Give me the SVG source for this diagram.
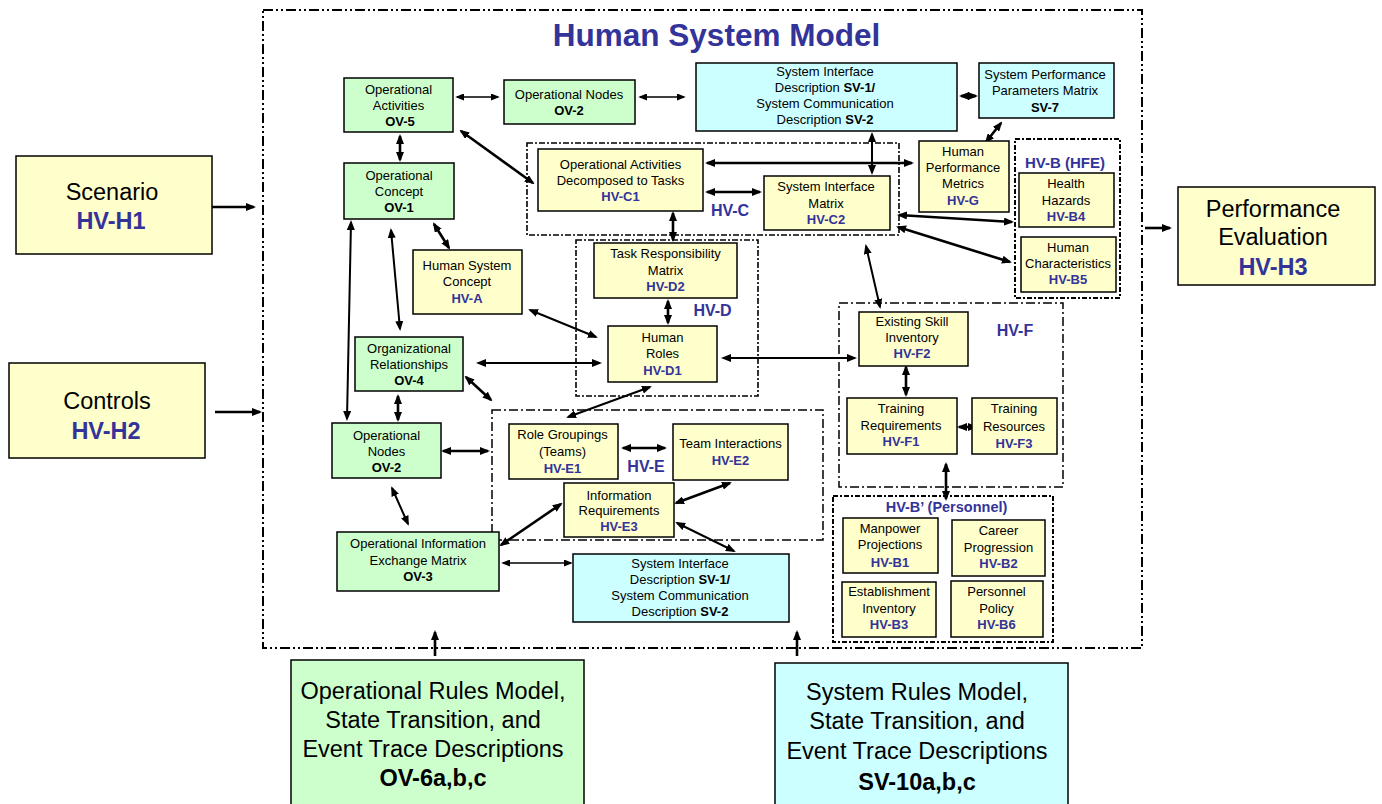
<svg xmlns="http://www.w3.org/2000/svg" width="1382" height="804" viewBox="0 0 1382 804">
  <style>
    .box { stroke: #000; stroke-width: 1.5; }
    .g { fill: #CCFFCC; }
    .y { fill: #FFFFCC; }
    .c { fill: #CCFFFF; }
    text { font-family: "Liberation Sans", Arial, sans-serif; text-anchor: middle; fill: #000; }
    .t { font-size: 13px; }
    .big { font-size: 23.5px; }
    .b { font-weight: bold; }
    .hv { font-weight: bold; fill: #333399; }
    .lbl { font-size: 16px; font-weight: bold; fill: #333399; }
    .frame { fill: none; stroke: #000; }
    .outer { stroke-width: 2; stroke-dasharray: 10 3 2 3 2 3; }
    .grp { stroke-width: 1.6; stroke-dasharray: 6 2 2 2; }
    .grp2 { stroke-width: 1.5; stroke-dasharray: 9 3 2 3; }
    .grp3 { stroke-width: 2; stroke-dasharray: 5 2 2 2; }
    #connectors line { stroke: #000; fill: none; }
    .k { stroke-width: 2.6; marker-start: url(#ah); marker-end: url(#ah); }
    .m { stroke-width: 2; marker-start: url(#ah); marker-end: url(#ah); }
    .n { stroke-width: 1.3; marker-start: url(#as); marker-end: url(#as); }
    .one { stroke-width: 2.6; marker-end: url(#ah); }
  </style>
  <defs>
    <marker id="ah" viewBox="0 0 10 8" refX="8" refY="4" markerWidth="10" markerHeight="8" markerUnits="userSpaceOnUse" orient="auto-start-reverse">
      <path d="M0,0 L10,4 L0,8 z" fill="#000"/>
    </marker>
    <marker id="as" viewBox="0 0 10 8" refX="8" refY="4" markerWidth="9" markerHeight="7" markerUnits="userSpaceOnUse" orient="auto-start-reverse">
      <path d="M0,0 L10,4 L0,8 z" fill="#000"/>
    </marker>
  </defs>

  <rect width="1382" height="804" fill="#fff"/>

  <!-- model boundary and view groupings -->
  <g id="frames">
    <rect class="frame outer" x="263" y="10" width="879" height="638"/>
    <rect class="frame grp" x="527" y="143" width="372" height="92"/>
    <rect class="frame grp" x="576" y="240" width="182" height="156"/>
    <rect class="frame grp2" x="492" y="410" width="331" height="130"/>
    <rect class="frame grp2" x="839" y="303" width="224" height="184"/>
    <rect class="frame grp3" x="1015" y="139" width="105" height="159"/>
    <rect class="frame grp3" x="833" y="496" width="220" height="146"/>
  </g>

  <g id="labels">
    <text x="716.5" y="46" class="b" style="font-size:31.5px;fill:#333399">Human System Model</text>
    <text x="730" y="215.5" class="lbl">HV-C</text>
    <text x="712.5" y="315.5" class="lbl">HV-D</text>
    <text x="646" y="472" class="lbl">HV-E</text>
    <text x="1015" y="335.5" class="lbl">HV-F</text>
    <text x="1065" y="167.5" class="lbl" style="font-size:15px">HV-B (HFE)</text>
    <text x="946.5" y="512" class="lbl" style="font-size:14.5px">HV-B’ (Personnel)</text>
  </g>

  <!-- connectors -->
  <g id="connectors">
    <line class="n" x1="457" y1="97" x2="498" y2="97"/>
    <line class="n" x1="640" y1="97" x2="684" y2="97"/>
    <line class="k" x1="961" y1="96" x2="976" y2="96"/>
    <line class="k" x1="400" y1="136" x2="400" y2="160"/>
    <line class="k" x1="461" y1="131" x2="533" y2="183"/>
    <line class="k" x1="707" y1="163" x2="912" y2="163"/>
    <line class="k" x1="707" y1="192" x2="760" y2="192"/>
    <line class="m" x1="872" y1="134" x2="872" y2="173"/>
    <line class="k" x1="986" y1="142" x2="1001" y2="123"/>
    <line class="k" x1="899" y1="215" x2="1012" y2="222"/>
    <line class="k" x1="898" y1="227" x2="1010" y2="262"/>
    <line class="m" x1="866" y1="246" x2="880" y2="307"/>
    <line class="k" x1="673" y1="213" x2="673" y2="240"/>
    <line class="k" x1="668" y1="301" x2="668" y2="323"/>
    <line class="m" x1="723" y1="358" x2="855" y2="358"/>
    <line class="m" x1="530" y1="310" x2="596" y2="337"/>
    <line class="m" x1="478" y1="363" x2="600" y2="363"/>
    <line class="m" x1="650" y1="387" x2="568" y2="417"/>
    <line class="k" x1="434" y1="224" x2="449" y2="248"/>
    <line class="m" x1="391" y1="230" x2="400" y2="329"/>
    <line class="m" x1="351" y1="222" x2="347" y2="419"/>
    <line class="k" x1="398" y1="396" x2="398" y2="420"/>
    <line class="k" x1="466" y1="377" x2="491" y2="400"/>
    <line class="k" x1="443" y1="451" x2="488" y2="451"/>
    <line class="k" x1="623" y1="448" x2="665" y2="448"/>
    <line class="k" x1="676" y1="503" x2="730" y2="483"/>
    <line class="m" x1="677" y1="523" x2="734" y2="551"/>
    <line class="k" x1="501" y1="545" x2="561" y2="504"/>
    <line class="m" x1="392" y1="488" x2="408" y2="524"/>
    <line class="n" x1="503" y1="563" x2="571" y2="563"/>
    <line class="k" x1="906" y1="367" x2="906" y2="395"/>
    <line class="k" x1="959" y1="427" x2="976" y2="427"/>
    <line class="k" x1="946" y1="464" x2="946" y2="499"/>
    <line class="one" x1="210" y1="207" x2="254" y2="207"/>
    <line class="one" x1="215" y1="412" x2="260" y2="412"/>
    <line class="one" x1="1145" y1="228" x2="1170" y2="228"/>
    <line class="one" x1="435" y1="656" x2="435" y2="632"/>
    <line class="one" x1="797" y1="656" x2="797" y2="632"/>
  </g>

  <!-- operational views -->
  <g id="ov5">
    <rect class="box g" x="344" y="78" width="109" height="54"/>
    <text class="t" x="398.5" y="93.5">Operational</text>
    <text class="t" x="398.5" y="109.5">Activities</text>
    <text class="t b" x="400" y="125.5">OV-5</text>
  </g>
  <g id="ov2-top">
    <rect class="box g" x="504" y="80" width="131" height="44"/>
    <text class="t" x="569" y="98.5">Operational Nodes</text>
    <text class="t b" x="569" y="115">OV-2</text>
  </g>
  <g id="ov1">
    <rect class="box g" x="344" y="163" width="110" height="56"/>
    <text class="t" x="399" y="179.5">Operational</text>
    <text class="t" x="399" y="196">Concept</text>
    <text class="t b" x="399" y="212">OV-1</text>
  </g>
  <g id="ov4">
    <rect class="box g" x="355" y="337" width="108" height="54"/>
    <text class="t" x="409" y="353">Organizational</text>
    <text class="t" x="409" y="369">Relationships</text>
    <text class="t b" x="409" y="385">OV-4</text>
  </g>
  <g id="ov2-bottom">
    <rect class="box g" x="332" y="423" width="109" height="55"/>
    <text class="t" x="386.5" y="439.5">Operational</text>
    <text class="t" x="386.5" y="455.5">Nodes</text>
    <text class="t b" x="386.5" y="472">OV-2</text>
  </g>
  <g id="ov3">
    <rect class="box g" x="337" y="532" width="162" height="59"/>
    <text class="t" x="418" y="548">Operational Information</text>
    <text class="t" x="418" y="565">Exchange Matrix</text>
    <text class="t b" x="418" y="580.5">OV-3</text>
  </g>

  <!-- system views -->
  <g id="sv1-top">
    <rect class="box c" x="696" y="63" width="261" height="68"/>
    <text class="t" x="825" y="76">System Interface</text>
    <text class="t" x="825" y="92">Description <tspan class="b">SV-1/</tspan></text>
    <text class="t" x="825" y="108">System Communication</text>
    <text class="t" x="825" y="124">Description <tspan class="b">SV-2</tspan></text>
  </g>
  <g id="sv7">
    <rect class="box c" x="979" y="63" width="135" height="55"/>
    <text class="t" x="1045" y="78.5">System Performance</text>
    <text class="t" x="1045" y="95">Parameters Matrix</text>
    <text class="t b" x="1045" y="111.5">SV-7</text>
  </g>
  <g id="sv1-bottom">
    <rect class="box c" x="573" y="554" width="216" height="68"/>
    <text class="t" x="680" y="568">System Interface</text>
    <text class="t" x="680" y="584">Description <tspan class="b">SV-1/</tspan></text>
    <text class="t" x="680" y="599.5">System Communication</text>
    <text class="t" x="680" y="615.5">Description <tspan class="b">SV-2</tspan></text>
  </g>

  <!-- human views -->
  <g id="hv-c1">
    <rect class="box y" x="538" y="149" width="165" height="62"/>
    <text class="t" x="620.5" y="168.5">Operational Activities</text>
    <text class="t" x="620.5" y="184.5">Decomposed to Tasks</text>
    <text class="t hv" x="620.5" y="200.5">HV-C1</text>
  </g>
  <g id="hv-c2">
    <rect class="box y" x="764" y="176" width="126" height="54"/>
    <text class="t" x="826" y="191">System Interface</text>
    <text class="t" x="826" y="207.5">Matrix</text>
    <text class="t hv" x="826" y="223.5">HV-C2</text>
  </g>
  <g id="hv-g">
    <rect class="box y" x="919" y="141" width="90" height="71"/>
    <text class="t" x="963" y="156">Human</text>
    <text class="t" x="963" y="172">Performance</text>
    <text class="t" x="963" y="188">Metrics</text>
    <text class="t hv" x="963" y="204.5">HV-G</text>
  </g>
  <g id="hv-b4">
    <rect class="box y" x="1019" y="173" width="95" height="54"/>
    <text class="t" x="1066" y="188">Health</text>
    <text class="t" x="1066" y="204.5">Hazards</text>
    <text class="t hv" x="1066" y="221">HV-B4</text>
  </g>
  <g id="hv-b5">
    <rect class="box y" x="1021" y="237" width="95" height="55"/>
    <text class="t" x="1068" y="252">Human</text>
    <text class="t" x="1068" y="268">Characteristics</text>
    <text class="t hv" x="1068" y="284">HV-B5</text>
  </g>
  <g id="hv-a">
    <rect class="box y" x="413" y="250" width="109" height="64"/>
    <text class="t" x="467" y="269.5">Human System</text>
    <text class="t" x="467" y="286">Concept</text>
    <text class="t hv" x="467" y="302.5">HV-A</text>
  </g>
  <g id="hv-d2">
    <rect class="box y" x="594" y="243" width="143" height="55"/>
    <text class="t" x="665.5" y="258">Task Responsibility</text>
    <text class="t" x="665.5" y="275">Matrix</text>
    <text class="t hv" x="665.5" y="291">HV-D2</text>
  </g>
  <g id="hv-d1">
    <rect class="box y" x="608" y="326" width="109" height="56"/>
    <text class="t" x="662.5" y="342">Human</text>
    <text class="t" x="662.5" y="358">Roles</text>
    <text class="t hv" x="662.5" y="375">HV-D1</text>
  </g>
  <g id="hv-e1">
    <rect class="box y" x="509" y="424" width="109" height="55"/>
    <text class="t" x="562.5" y="439">Role Groupings</text>
    <text class="t" x="562.5" y="456">(Teams)</text>
    <text class="t hv" x="562.5" y="473">HV-E1</text>
  </g>
  <g id="hv-e2">
    <rect class="box y" x="673" y="424" width="115" height="56"/>
    <text class="t" x="730.5" y="448">Team Interactions</text>
    <text class="t hv" x="730.5" y="465">HV-E2</text>
  </g>
  <g id="hv-e3">
    <rect class="box y" x="564" y="483" width="110" height="54"/>
    <text class="t" x="619" y="499.5">Information</text>
    <text class="t" x="619" y="514.5">Requirements</text>
    <text class="t hv" x="619" y="531">HV-E3</text>
  </g>
  <g id="hv-f2">
    <rect class="box y" x="859" y="312" width="109" height="54"/>
    <text class="t" x="912" y="326">Existing Skill</text>
    <text class="t" x="912" y="342">Inventory</text>
    <text class="t hv" x="912" y="358">HV-F2</text>
  </g>
  <g id="hv-f1">
    <rect class="box y" x="847" y="398" width="110" height="56"/>
    <text class="t" x="901" y="413">Training</text>
    <text class="t" x="901" y="429.5">Requirements</text>
    <text class="t hv" x="901" y="446">HV-F1</text>
  </g>
  <g id="hv-f3">
    <rect class="box y" x="972" y="398" width="85" height="56"/>
    <text class="t" x="1014" y="413">Training</text>
    <text class="t" x="1014" y="431">Resources</text>
    <text class="t hv" x="1014" y="447.5">HV-F3</text>
  </g>
  <g id="hv-b1">
    <rect class="box y" x="843" y="518" width="95" height="55"/>
    <text class="t" x="890" y="533">Manpower</text>
    <text class="t" x="890" y="549">Projections</text>
    <text class="t hv" x="890" y="567">HV-B1</text>
  </g>
  <g id="hv-b2">
    <rect class="box y" x="952" y="520" width="93" height="56"/>
    <text class="t" x="998.5" y="535">Career</text>
    <text class="t" x="998.5" y="552">Progression</text>
    <text class="t hv" x="998.5" y="568">HV-B2</text>
  </g>
  <g id="hv-b3">
    <rect class="box y" x="842" y="582" width="94" height="55"/>
    <text class="t" x="889" y="596">Establishment</text>
    <text class="t" x="889" y="613">Inventory</text>
    <text class="t hv" x="889" y="628.5">HV-B3</text>
  </g>
  <g id="hv-b6">
    <rect class="box y" x="951" y="581" width="92" height="56"/>
    <text class="t" x="996.5" y="596">Personnel</text>
    <text class="t" x="996.5" y="613">Policy</text>
    <text class="t hv" x="996.5" y="628.5">HV-B6</text>
  </g>

  <!-- inputs and outputs of the model -->
  <g id="hv-h1">
    <rect class="box y" x="16" y="156" width="196" height="98"/>
    <text class="big" x="112" y="200">Scenario</text>
    <text class="big hv" x="111" y="228.5">HV-H1</text>
  </g>
  <g id="hv-h2">
    <rect class="box y" x="9" y="363" width="196" height="95"/>
    <text class="big" x="107" y="408.5">Controls</text>
    <text class="big hv" x="106" y="438.5">HV-H2</text>
  </g>
  <g id="hv-h3">
    <rect class="box y" x="1178" y="187" width="197" height="98"/>
    <text class="big" x="1273" y="217">Performance</text>
    <text class="big" x="1273" y="245">Evaluation</text>
    <text class="big hv" x="1273" y="275">HV-H3</text>
  </g>
  <g id="ov6">
    <rect class="box g" x="291" y="660" width="293" height="152"/>
    <text class="big" x="433" y="698.5">Operational Rules Model,</text>
    <text class="big" x="433" y="727.5">State Transition, and</text>
    <text class="big" x="433" y="756.5">Event Trace Descriptions</text>
    <text class="big b" x="433" y="785.5">OV-6a,b,c</text>
  </g>
  <g id="sv10">
    <rect class="box c" x="775" y="663" width="293" height="152"/>
    <text class="big" x="917" y="700">System Rules Model,</text>
    <text class="big" x="917" y="729">State Transition, and</text>
    <text class="big" x="917" y="758.5">Event Trace Descriptions</text>
    <text class="big b" x="917" y="790">SV-10a,b,c</text>
  </g>
</svg>
